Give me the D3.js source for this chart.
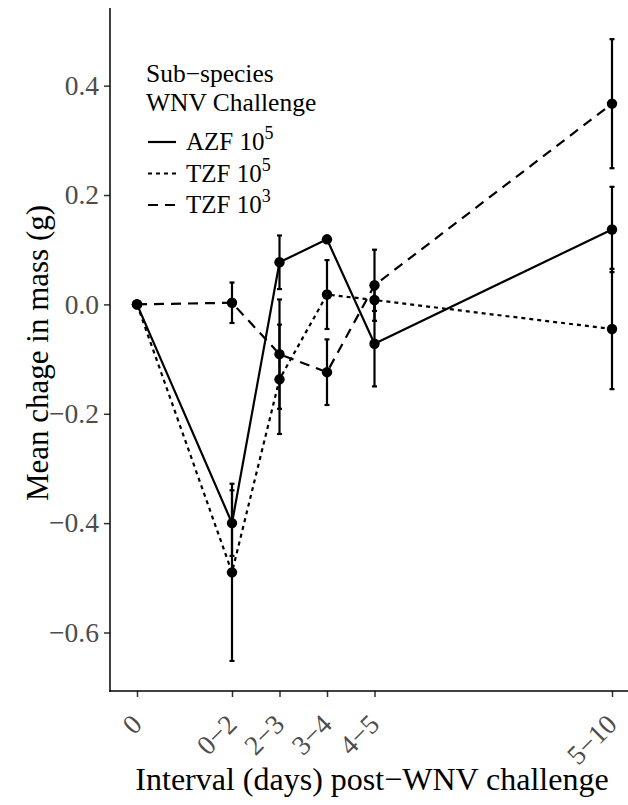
<!DOCTYPE html>
<html>
<head>
<meta charset="utf-8">
<script src="https://cdn.jsdelivr.net/npm/d3@7"></script>
<style>
  body { margin: 0; background: #fff; }
  text { font-family: "Liberation Serif", "Times New Roman", serif; }
</style>
</head>
<body>
<div id="container"></div>
<script>
/* DATA */
const intervals = ["0", "0\u22122", "2\u22123", "3\u22124", "4\u22125", "5\u221210"];
const dayEnd = [0, 2, 3, 4, 5, 10];
const yTicks = [-0.6, -0.4, -0.2, 0.0, 0.2, 0.4];

const azf5 = [0, -0.40, 0.077, 0.119, -0.072, 0.137];
const azf5Se = [0, 0.06, 0.049, 0.005, 0.078, 0.078];
const tzf5 = [0, -0.49, -0.137, 0.018, 0.008, -0.045];
const tzf5Se = [0, 0.162, 0.10, 0.063, 0.02, 0.11];
const tzf3 = [0, 0.003, -0.091, -0.124, 0.035, 0.367];
const tzf3Se = [0, 0.037, 0.10, 0.06, 0.065, 0.118];

const seriesNames = ["AZF", "TZF", "TZF"];
const seriesExp = ["5", "5", "3"];

/* CONSTANTS */
const width = 628, height = 805;
const plotLeft = 110, plotTop = 8, plotBottom = 691;

const series = [
  { mean: azf5, se: azf5Se, dash: null },
  { mean: tzf5, se: tzf5Se, dash: "4,4" },
  { mean: tzf3, se: tzf3Se, dash: "10,7" }
];

const svg = d3.select("#container").append("svg")
  .attr("width", width)
  .attr("height", height);

/* SCALES */
const xScale = d3.scaleLinear()
  .domain([0, 10])
  .range([137, 612]);

const yScale = d3.scaleLinear()
  .domain([-0.707, 0.542])
  .range([plotBottom, plotTop]);

/* AXES */
const yAxis = d3.axisLeft(yScale)
  .tickValues(yTicks)
  .tickFormat(d => d3.format(".1f")(d).replace("-", "\u2212"))
  .tickSize(6)
  .tickPadding(5);

const yG = svg.append("g")
  .attr("transform", `translate(${plotLeft},0)`)
  .call(yAxis);
yG.select(".domain").remove();
yG.selectAll(".tick line").attr("stroke", "#333").attr("stroke-width", 1.5);
yG.selectAll(".tick text")
  .attr("fill", "#4d4d4d")
  .style("font-size", "27.5px")
  .style("font-family", "Liberation Serif");

const xAxis = d3.axisBottom(xScale)
  .tickValues(dayEnd)
  .tickFormat((d, i) => intervals[i])
  .tickSize(6);

const xG = svg.append("g")
  .attr("transform", `translate(0,${plotBottom})`)
  .call(xAxis);
xG.select(".domain").remove();
xG.selectAll(".tick line").attr("stroke", "#333").attr("stroke-width", 1.5);
xG.selectAll(".tick text")
  .attr("fill", "#4d4d4d")
  .style("font-size", "27.5px")
  .style("font-family", "Liberation Serif")
  .attr("text-anchor", "end")
  .attr("y", 0)
  .attr("dy", 0)
  .attr("transform", "translate(6,35) rotate(-45)");

// axis lines
svg.append("line")
  .attr("x1", plotLeft).attr("x2", plotLeft)
  .attr("y1", plotTop).attr("y2", plotBottom + 0.75)
  .attr("stroke", "#000").attr("stroke-width", 1.5);
svg.append("line")
  .attr("x1", plotLeft - 0.75).attr("x2", width)
  .attr("y1", plotBottom).attr("y2", plotBottom)
  .attr("stroke", "#000").attr("stroke-width", 1.5);

/* MARKS */
const line = d3.line()
  .x((d, i) => xScale(dayEnd[i]))
  .y(d => yScale(d));

series.forEach(s => {
  svg.append("path")
    .datum(s.mean)
    .attr("d", line)
    .attr("fill", "none")
    .attr("stroke", "#000")
    .attr("stroke-width", 2.2)
    .attr("stroke-dasharray", s.dash);
});

series.forEach(s => {
  const g = svg.append("g");
  s.mean.forEach((m, i) => {
    if (s.se[i] === 0) return;
    const x = xScale(dayEnd[i]);
    const y1 = yScale(m + s.se[i]), y2 = yScale(m - s.se[i]);
    g.append("line").attr("x1", x).attr("x2", x).attr("y1", y1).attr("y2", y2)
      .attr("stroke", "#000").attr("stroke-width", 2.2);
    [y1, y2].forEach(yy => {
      g.append("line").attr("x1", x - 2.5).attr("x2", x + 2.5).attr("y1", yy).attr("y2", yy)
        .attr("stroke", "#000").attr("stroke-width", 2.2);
    });
  });
});

series.forEach(s => {
  svg.selectAll(null)
    .data(s.mean)
    .join("circle")
    .attr("cx", (d, i) => xScale(dayEnd[i]))
    .attr("cy", d => yScale(d))
    .attr("r", 5.2)
    .attr("fill", "#000");
});

/* LEGEND */
svg.append("text").attr("x", 146).attr("y", 81.5)
  .style("font-size", "25.5px").text("Sub\u2212species");
svg.append("text").attr("x", 146).attr("y", 111)
  .style("font-size", "25.5px").text("WNV Challenge");

series.forEach((s, i) => {
  const yy = 150 + i * 31.5;
  svg.append("line")
    .attr("x1", 148).attr("x2", 176)
    .attr("y1", yy - 8).attr("y2", yy - 8)
    .attr("stroke", "#000").attr("stroke-width", 2.2)
    .attr("stroke-dasharray", s.dash);
  const t = svg.append("text").attr("x", 186).attr("y", yy).style("font-size", "25px");
  t.append("tspan").text(seriesNames[i] + " 10");
  t.append("tspan").attr("dy", -11).style("font-size", "18px").text(seriesExp[i]);
});

/* TITLES */
svg.append("text")
  .attr("x", 372).attr("y", 790)
  .attr("text-anchor", "middle")
  .style("font-size", "32px")
  .text("Interval (days) post\u2212WNV challenge");

svg.append("text")
  .attr("transform", "translate(48,353) rotate(-90)")
  .attr("text-anchor", "middle")
  .style("font-size", "31px")
  .text("Mean chage in mass (g)");
</script>
</body>
</html>
